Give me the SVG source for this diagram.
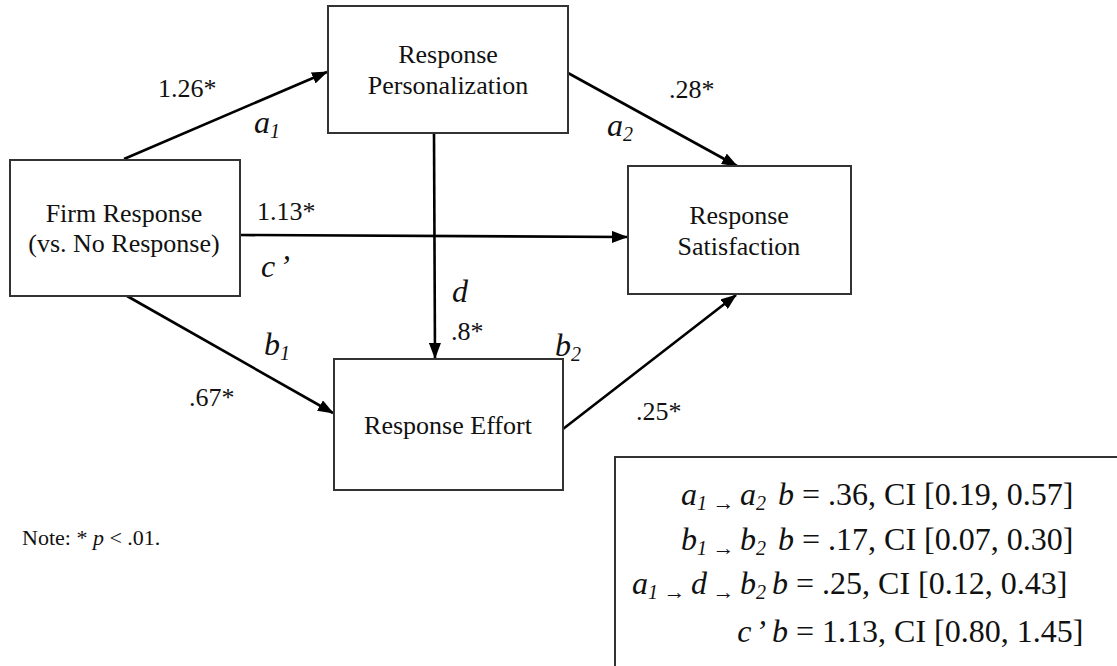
<svg xmlns="http://www.w3.org/2000/svg" width="1117" height="666" viewBox="0 0 1117 666">
<style>
.box{fill:#fff;stroke:#333;stroke-width:2}
.node{font-family:"Liberation Serif","Times New Roman",serif;font-size:26px;fill:#111;text-anchor:middle}
.lbl{font-family:"Liberation Serif","Times New Roman",serif;font-size:26px;fill:#111}
.it{font-family:"Liberation Serif","Times New Roman",serif;font-size:32px;font-style:italic;fill:#111}
.sub{font-size:20px}
.leg{font-family:"Liberation Serif","Times New Roman",serif;font-size:32px;fill:#111}
.arr{font-size:22px;font-style:normal}
.note{font-family:"Liberation Serif","Times New Roman",serif;font-size:22px;fill:#111}
.edge{stroke:#000;stroke-width:2.6;fill:none;marker-end:url(#ah)}
</style>
<defs>
<marker id="ah" markerUnits="userSpaceOnUse" markerWidth="16" markerHeight="12" viewBox="0 0 16 12" refX="15" refY="6" orient="auto">
<path d="M0,0 L16,6 L0,12 Z" fill="#000"/>
</marker>
</defs>
<rect width="1117" height="666" fill="#fff"/>

<g id="connectors">
<line class="edge" x1="124" y1="159" x2="327" y2="72"/>
<line class="edge" x1="568" y1="73" x2="737" y2="166"/>
<line class="edge" x1="240" y1="235" x2="627" y2="237"/>
<line class="edge" x1="434" y1="133" x2="435" y2="358"/>
<line class="edge" x1="127" y1="296" x2="333" y2="413"/>
<line class="edge" x1="563" y1="429" x2="736" y2="295"/>
</g>

<g id="edge-labels">
<text class="lbl" x="158" y="97">1.26*</text>
<text class="it" x="254" y="133">a<tspan class="sub" dy="5">1</tspan></text>
<text class="lbl" x="669" y="98">.28*</text>
<text class="it" x="607" y="136">a<tspan class="sub" dy="5">2</tspan></text>
<text class="lbl" x="257" y="220">1.13*</text>
<text class="it" x="261" y="277">c<tspan dx="4">’</tspan></text>
<text class="it" x="452" y="302">d</text>
<text class="lbl" x="451" y="340">.8*</text>
<text class="it" x="264" y="355">b<tspan class="sub" dy="5">1</tspan></text>
<text class="lbl" x="189" y="406">.67*</text>
<text class="it" x="555" y="356">b<tspan class="sub" dy="5">2</tspan></text>
<text class="lbl" x="636" y="420">.25*</text>
</g>

<g id="node-personalization">
<rect class="box" x="328" y="6" width="240" height="127"/>
<text class="node" x="448" y="63">Response</text>
<text class="node" x="448" y="94">Personalization</text>
</g>

<g id="node-firm">
<rect class="box" x="10" y="160" width="230" height="136"/>
<text class="node" x="124" y="222">Firm Response</text>
<text class="node" x="124" y="252">(vs. No Response)</text>
</g>

<g id="node-satisfaction">
<rect class="box" x="628" y="166" width="223" height="128"/>
<text class="node" x="739" y="224">Response</text>
<text class="node" x="739" y="255">Satisfaction</text>
</g>

<g id="node-effort">
<rect class="box" x="334" y="359" width="229" height="131"/>
<text class="node" x="448" y="434">Response Effort</text>
</g>

<g id="note">
<text class="note" x="22" y="545">Note: * <tspan font-style="italic">p</tspan> &lt; .01.</text>
</g>

<g id="legend">
<rect class="box" x="615" y="457" width="600" height="300"/>
<text class="leg" x="766" y="505" text-anchor="end"><tspan font-style="italic">a<tspan class="sub" dy="5">1</tspan></tspan><tspan class="arr"> → </tspan><tspan font-style="italic" dy="-5">a<tspan class="sub" dy="5">2</tspan></tspan></text>
<text class="leg" x="778" y="505"><tspan font-style="italic">b</tspan> = .36, CI [0.19, 0.57]</text>
<text class="leg" x="766" y="550" text-anchor="end"><tspan font-style="italic">b<tspan class="sub" dy="5">1</tspan></tspan><tspan class="arr"> → </tspan><tspan font-style="italic" dy="-5">b<tspan class="sub" dy="5">2</tspan></tspan></text>
<text class="leg" x="778" y="550"><tspan font-style="italic">b</tspan> = .17, CI [0.07, 0.30]</text>
<text class="leg" x="766" y="594" text-anchor="end"><tspan font-style="italic">a<tspan class="sub" dy="5">1</tspan></tspan><tspan class="arr"> → </tspan><tspan font-style="italic" dy="-5">d</tspan><tspan class="arr" dy="5"> → </tspan><tspan font-style="italic" dy="-5">b<tspan class="sub" dy="5">2</tspan></tspan></text>
<text class="leg" x="772" y="594"><tspan font-style="italic">b</tspan> = .25, CI [0.12, 0.43]</text>
<text class="leg" x="766" y="642" text-anchor="end" font-style="italic">c<tspan dx="4">’</tspan></text>
<text class="leg" x="772" y="642"><tspan font-style="italic">b</tspan> = 1.13, CI [0.80, 1.45]</text>
</g>
</svg>
